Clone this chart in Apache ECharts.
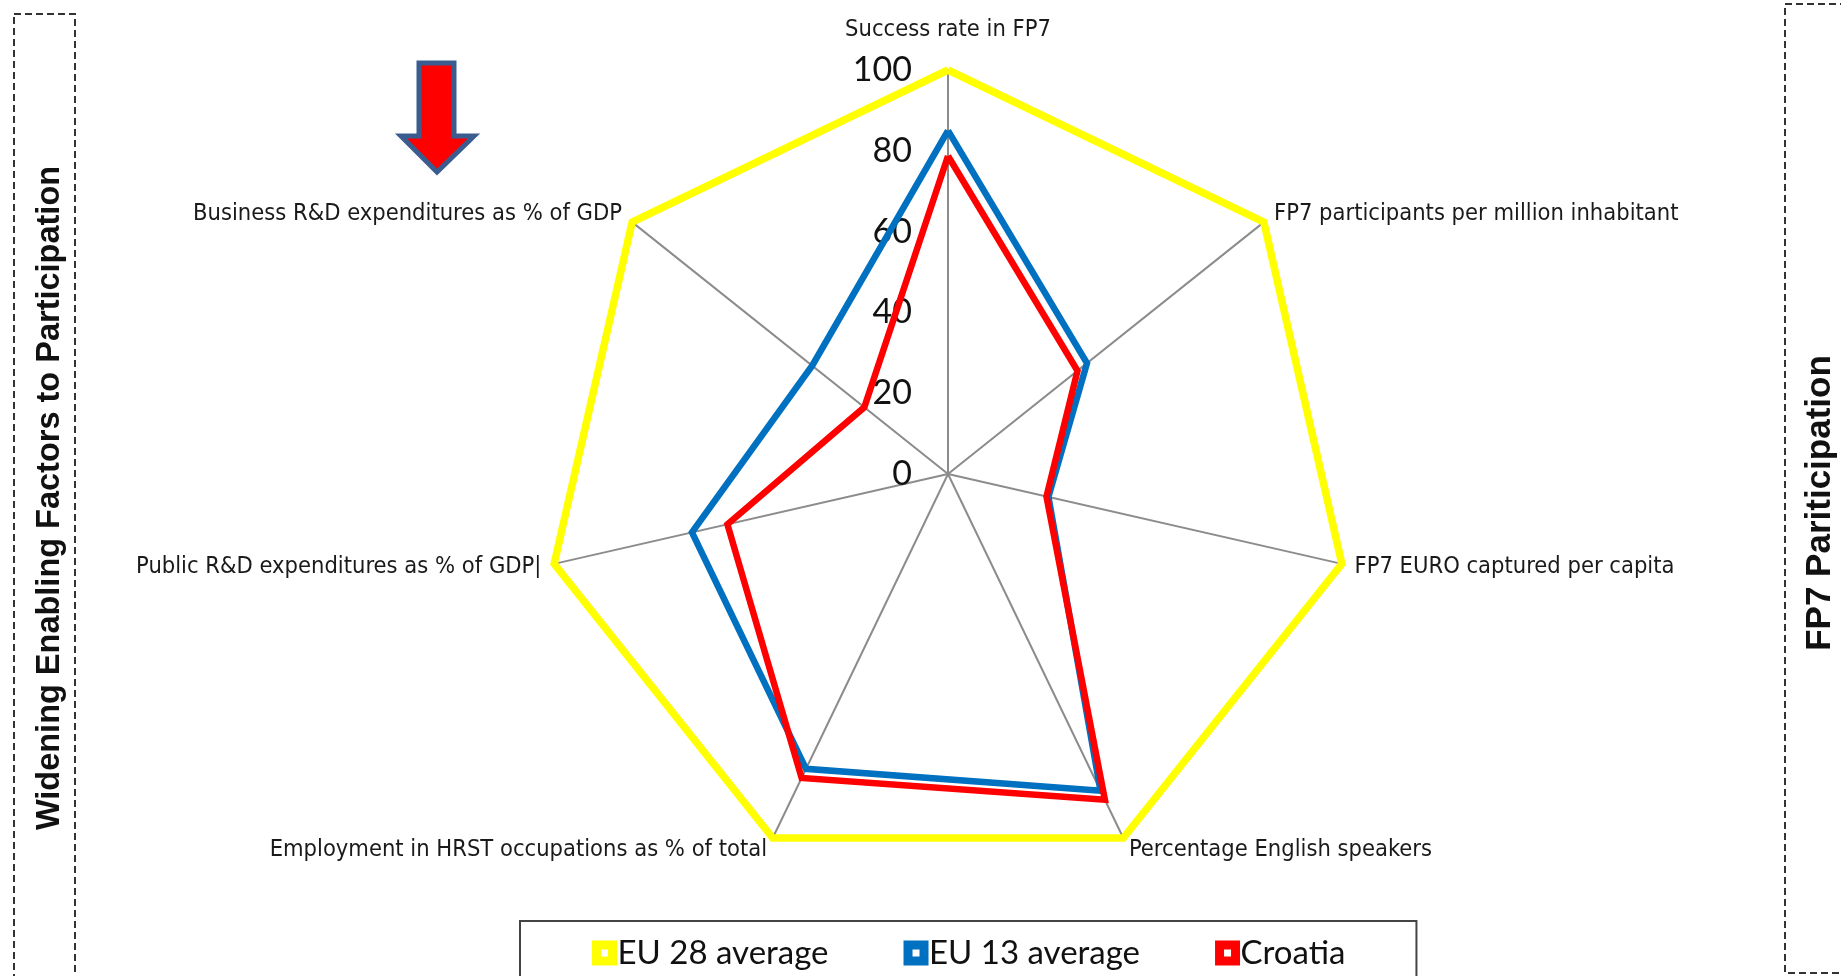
<!DOCTYPE html>
<html><head><meta charset="utf-8">
<script src="https://cdn.jsdelivr.net/npm/echarts@6/dist/echarts.min.js"></script>
<style>html,body{margin:0;padding:0;background:#fff}#c{width:1841px;height:976px}</style>
</head><body><div id="c"></div>
<script>
// Axes listed clockwise starting at the top
const categories = [
  'Success rate in FP7',
  'FP7 participants per million inhabitant',
  'FP7 EURO captured per capita',
  'Percentage English speakers',
  'Employment in HRST occupations as % of total',
  'Public R&D expenditures as % of GDP|',
  'Business R&D expenditures as % of GDP'
];
const eu28 = [100, 100, 100, 100, 100, 100, 100];
const eu13 = [85, 44, 25.5, 87, 81, 65, 43];
const croatia = [78.7, 41, 25, 89.5, 83.5, 56, 26.5];
const seriesNames = ['EU 28 average', 'EU 13 average', 'Croatia'];
const axisMin = 0, axisMax = 100, axisSplits = 5; // ticks 0,20,40,60,80,100
const leftTitle = 'Widening Enabling Factors to Participation';
const rightTitle = 'FP7 Pariticipation';

const NARROW = "'DejaVu Sans Condensed','Liberation Sans Narrow',sans-serif";
// ECharts lays indicators counter-clockwise; reorder so the picture reads clockwise
const order = [0, 6, 5, 4, 3, 2, 1];
const reorder = arr => order.map(i => arr[i]);

const indicator = order.map((i, k) => {
  const o = { name: categories[i], min: axisMin, max: axisMax };
  if (k === 0) { o.axisLabel = { show: true }; o.nameGap = 28; }
  return o;
});

const colors = ['#FFFF00', '#0070C0', '#FF0000'];
const widths = [7.5, 6.5, 6.5];
const values = [eu28, eu13, croatia];

const chart = echarts.init(document.getElementById('c'));
chart.setOption({
  animation: false,
  backgroundColor: '#ffffff',
  radar: {
    center: [948, 474],
    radius: 404,
    startAngle: 90,
    splitNumber: axisSplits,
    shape: 'polygon',
    indicator: indicator,
    nameGap: 13,
    axisName: { color: '#1a1a1a', fontSize: 23.5, fontFamily: NARROW },
    axisLine: { lineStyle: { color: '#8c8c8c', width: 2 } },
    axisTick: { show: false },
    splitLine: { show: false },
    splitArea: { show: false },
    axisLabel: { show: false, color: '#111', fontSize: 34, fontFamily: 'Lato', margin: 36 }
  },
  legend: {
    data: seriesNames.map((n, s) => ({
      name: n,
      icon: 'rect',
      itemStyle: { color: '#ffffff', borderColor: colors[s], borderWidth: 9 }
    })),
    left: 520, top: 921,
    orient: 'horizontal',
    itemWidth: 16, itemHeight: 16,
    itemGap: 75,
    padding: [15, 71, 40, 72],
    borderColor: '#444', borderWidth: 2,
    textStyle: { fontFamily: 'Lato', fontSize: 33, color: '#111', lineHeight: 34 }
  },
  series: seriesNames.map((n, s) => ({
    type: 'radar',
    name: n,
    symbol: 'none',
    z: 2 + s,
    lineStyle: { color: colors[s], width: widths[s], join: 'miter', opacity: 1 },
    itemStyle: { color: colors[s] },
    data: [{ name: n, value: reorder(values[s]) }]
  })),
  graphic: [
    { type: 'rect', shape: { x: 14, y: 14, width: 61, height: 1000 },
      style: { fill: 'none', stroke: '#333', lineWidth: 2, lineDash: [7, 4] } },
    { type: 'rect', shape: { x: 1785, y: 4, width: 120, height: 969 },
      style: { fill: 'none', stroke: '#333', lineWidth: 2, lineDash: [7, 4] } },
    { type: 'text', x: 50, y: 498, rotation: Math.PI / 2,
      style: { text: leftTitle, fontSize: 32.5, fontWeight: 'bold', fontFamily: 'Liberation Sans, Arial, sans-serif',
               fill: '#111', align: 'center', verticalAlign: 'middle' } },
    { type: 'text', x: 1820, y: 503, rotation: Math.PI / 2,
      style: { text: rightTitle, fontSize: 35, fontWeight: 'bold', fontFamily: 'Liberation Sans, Arial, sans-serif',
               fill: '#111', align: 'center', verticalAlign: 'middle' } },
    { type: 'polygon',
      shape: { points: [[419, 63], [454, 63], [454, 136], [474, 136], [437, 172], [401, 136], [419, 136]] },
      style: { fill: '#FF0000', stroke: '#3B5C8F', lineWidth: 5, lineJoin: 'miter' } }
  ]
});
</script>
</body></html>
